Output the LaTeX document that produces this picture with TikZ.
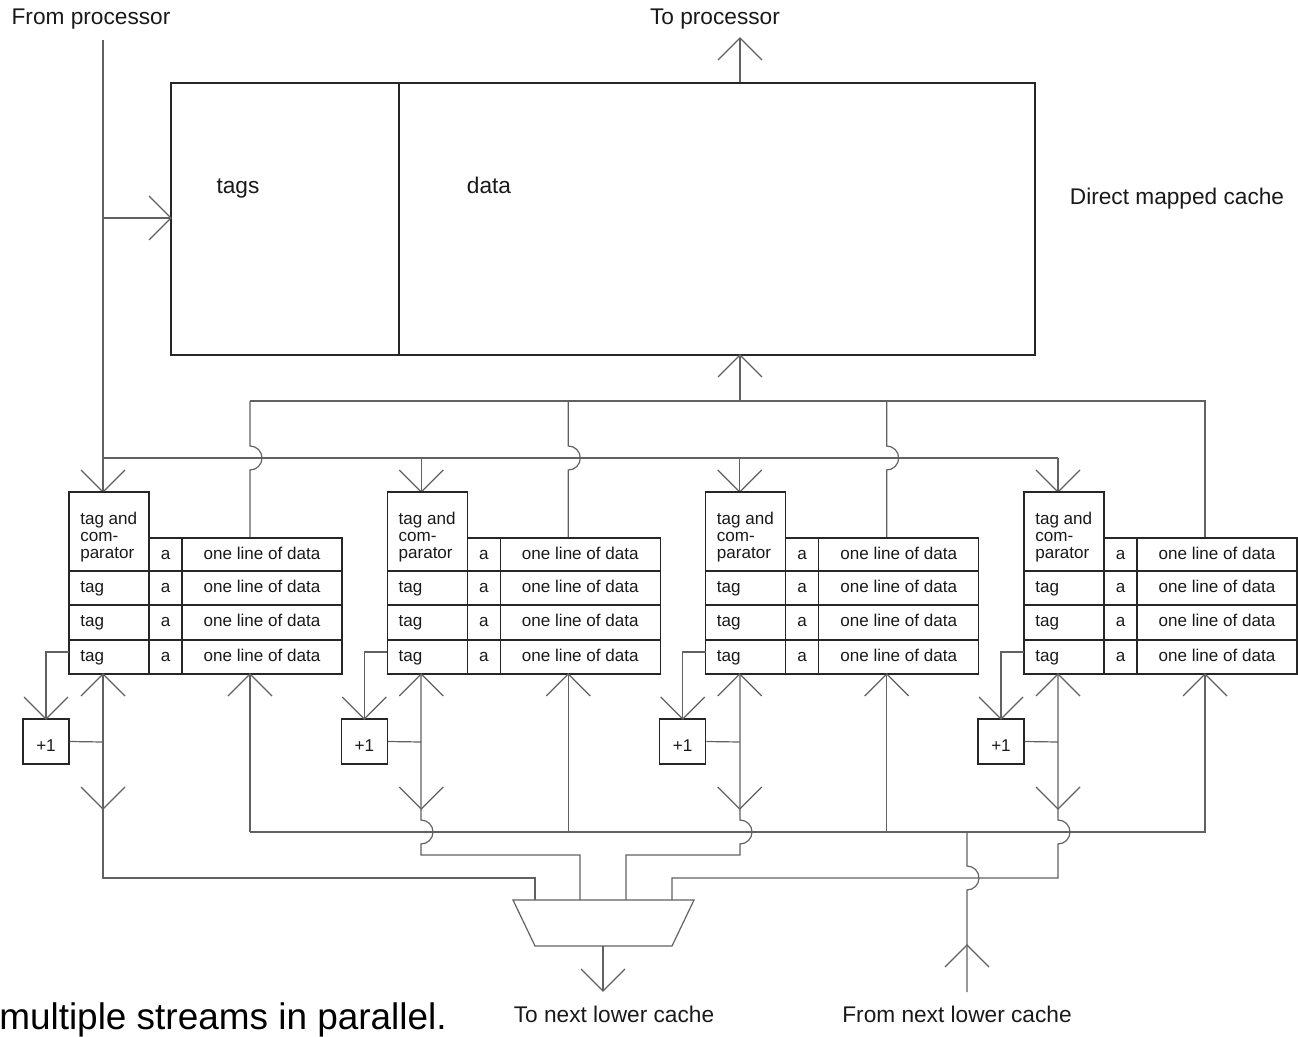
\documentclass[tikz,border=0pt]{standalone}
\usepackage{fontspec}
\setmainfont{Liberation Sans}
\usetikzlibrary{fit,calc}
\newcommand{\arrD}[1]{\draw[ln] (#1) ++(-22,-22) -- (#1) -- ++(22,-22);}
\newcommand{\arrU}[1]{\draw[ln] (#1) ++(-22,22) -- (#1) -- ++(22,22);}
\newcommand{\arrR}[1]{\draw[ln] (#1) ++(-22,-22) -- (#1) -- ++(-22,22);}
\begin{document}
\begin{tikzpicture}[x=0.75pt,y=-0.75pt,
  ln/.style={draw=black!62, line width=0.9pt},
  bx/.style={draw=black!85, line width=0.9pt, inner sep=0pt},
  lbl/.style={font=\fontsize{17}{20}\selectfont, inner sep=0pt, text=black!90, anchor=base},
  cell/.style={font=\fontsize{12.8}{12.75}\selectfont, inner sep=0pt, text=black!90, anchor=base},
]
\useasboundingbox (0,0) rectangle (1298,1037);

% main cache
\node[bx, fit={(171,83) (399,355)}] (tagsbox) {};
\node[bx, fit={(399,83) (1035,355)}] (databox) {};
\node[lbl] (tagslbl) at (238,194) {tags};
\node[lbl] (datalbl) at (489,194) {data};
\node[lbl] (dmc) at (1177,205) {Direct mapped cache};
\node[lbl] (fromproc) at (91,25) {From processor};
\node[lbl] (toproc) at (715,25) {To processor};
\node[lbl] (tonext) at (614,1022) {To next lower cache};
\node[lbl] (fromnext) at (957,1022) {From next lower cache};
\node[font=\fontsize{27.7}{30}\selectfont, inner sep=0pt, anchor=base west] (multi) at (-1,1029) {multiple streams in parallel.};

% from processor
\coordinate (fp) at (103,40);
\draw[ln] (fp) -- (103,492);
\draw[ln] (103,218) -- (tagsbox.west |- 0,218);
\arrR{171,218}
% to processor
\coordinate (tp) at (740,38);
\draw[ln] (databox.north -| 740,0) -- (tp);
\arrU{740,38}
% bus up into cache
\draw[ln] (740,401) -- (740,355);
\arrU{740,355}
\draw[ln] (250,401) -- (1206,401);
\draw[ln] (103,458) -- (1058,458);

\foreach \k in {0,1,2,3}{
  \pgfmathsetmacro{\ox}{318.33*\k}
  % comparator feed
  \draw[ln] (103+\ox,458) -- (103+\ox,492);
  \arrD{103+\ox,492}
  % data feed from top
  \ifnum\k<3
    \draw[ln] (250+\ox,401) -- (250+\ox,446) arc[start angle=-90,end angle=90,radius=12] -- (250+\ox,538);
  \else
    \draw[ln] (250+\ox,401) -- (250+\ox,538);
  \fi
  % cells
  \node[bx, fit={(69+\ox,492) (149+\ox,571)}] (cmp\k) {};
  \node[cell, anchor=west, align=left] (cmptxt\k) at (80+\ox,537) {tag and\\com-\\parator};
  \foreach \r/\ya/\yb in {0/538/571,1/571/605,2/605/640,3/640/674}{
    \node[bx, fit={(149+\ox,\ya) (182+\ox,\yb)}] (acell\k\r) {};
    \node[bx, fit={(182+\ox,\ya) (342+\ox,\yb)}] (dcell\k\r) {};
    \node[cell] (atxt\k\r) at (165.5+\ox,\ya+21) {a};
    \node[cell] (dtxt\k\r) at (262+\ox,\ya+21) {one line of data};
    \ifnum\r>0
      \node[bx, fit={(69+\ox,\ya) (149+\ox,\yb)}] (tcell\k\r) {};
      \node[cell, anchor=base west] (ttxt\k\r) at (80+\ox,\ya+21) {tag};
    \fi
  }
  % +1 box
  \node[bx, fit={(23+\ox,719) (69+\ox,764)}] (inc\k) {};
  \node[cell] (inctxt\k) at (46+\ox,751) {+1};
  \draw[ln] (69+\ox,652) -- (46+\ox,652) -- (inc\k.north);
  \arrD{46+\ox,719}
  \draw[ln] (inc\k.east) -- (103+\ox,742);
  \arrU{103+\ox,674}
  \arrD{103+\ox,809}
  \draw[ln] (250+\ox,832) -- (250+\ox,674);
  \arrU{250+\ox,674}
}

% mux
\coordinate (m1) at (513,900);
\coordinate (m2) at (694,900);
\coordinate (m3) at (672,946);
\coordinate (m4) at (535,946);
\draw[ln] (m1) -- (m2) -- (m3) -- (m4) -- cycle;
\draw[ln] (603,946) -- (603,991);
\arrD{603,991}

% tag lines down to mux
\draw[ln] (103,674) -- (103,878) -- (535,878) -- (535,900);
\draw[ln] (421,674) -- (421,820) arc[start angle=-90,end angle=90,radius=12] -- (421,855) -- (580,855) -- (580,900);
\draw[ln] (740,674) -- (740,820) arc[start angle=-90,end angle=90,radius=12] -- (740,855) -- (626,855) -- (626,900);
\draw[ln] (1058,674) -- (1058,820) arc[start angle=-90,end angle=90,radius=12] -- (1058,878) -- (672,878) -- (672,900);

% data return bus
\draw[ln] (250,832) -- (1206,832);
% from next lower cache
\coordinate (fn) at (967,992);
\draw[ln] (fn) -- (967,890) arc[start angle=90,end angle=-90,radius=12] -- (967,832);
\arrU{967,945}
\end{tikzpicture}
\end{document}
